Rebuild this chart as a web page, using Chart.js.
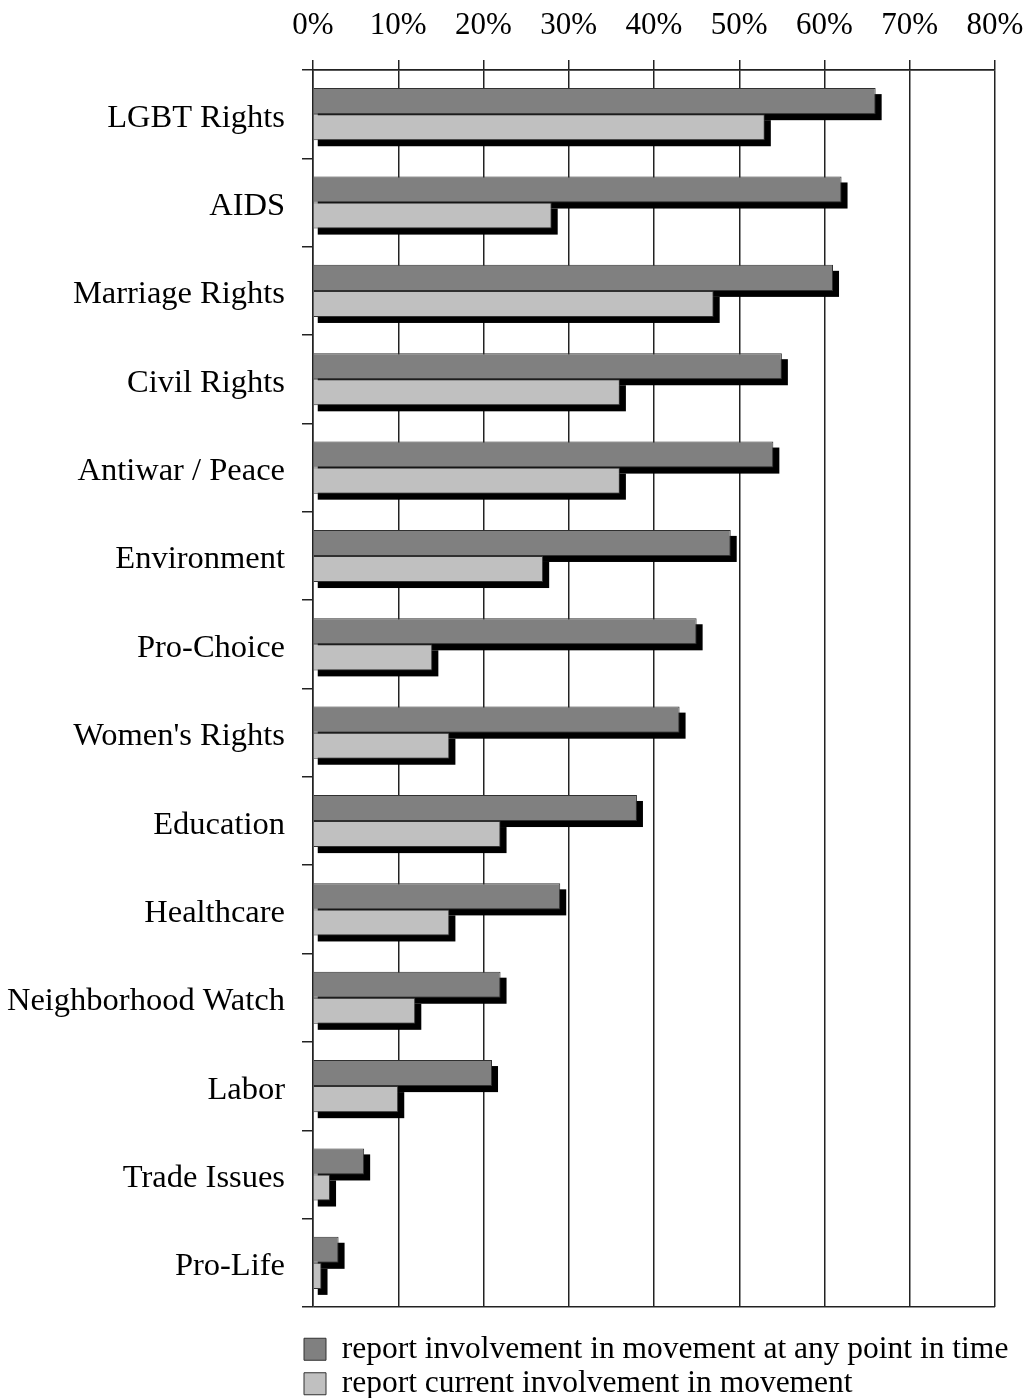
<!DOCTYPE html>
<html>
<head>
<meta charset="utf-8">
<script src="https://cdn.jsdelivr.net/npm/chart.js@4.4.1/dist/chart.umd.min.js"></script>
<style>
  html, body { margin: 0; padding: 0; background: #fff; overflow: hidden; }
  #wrap { width: 1030px; height: 1398px; position: relative; }
</style>
</head>
<body>
<div id="wrap"><canvas id="movement-chart"></canvas></div>
<script>
"use strict"

// movements, top to bottom
const categories = [
  "LGBT Rights", "AIDS", "Marriage Rights", "Civil Rights", "Antiwar / Peace",
  "Environment", "Pro-Choice", "Women's Rights", "Education", "Healthcare",
  "Neighborhood Watch", "Labor", "Trade Issues", "Pro-Life",
];
const seriesNames = [
  "report involvement in movement at any point in time",
  "report current involvement in movement",
];
// percent of respondents
const anyTime = [66, 62, 61, 55, 54, 49, 45, 43, 38, 29, 22, 21, 6, 3];
const current = [53, 28, 47, 36, 36, 27, 14, 16, 22, 16, 12, 10, 2, 1];
const xTicks = [0, 10, 20, 30, 40, 50, 60, 70, 80];

const serif = "'Liberation Serif', 'Times New Roman', serif";
Chart.defaults.color = "#000";

// black drop shadow behind every bar, drawn from the bar elements
const barShadow = {
  id: "barShadow",
  beforeDatasetsDraw(chart) {
    const ctx = chart.ctx;
    ctx.save();
    ctx.fillStyle = "#000";
    chart.data.datasets.forEach((ds, i) => {
      const meta = chart.getDatasetMeta(i);
      meta.data.forEach(bar => {
        const p = bar.getProps(["x", "y", "base", "height"], true);
        const left = Math.min(p.base, p.x);
        ctx.fillRect(left + 4, p.y - p.height / 2 + 6, Math.abs(p.x - p.base) + 2, p.height);
      });
    });
    ctx.restore();
  },
};

// move the legend so it sits under the plot, flush with the axis
const legendSpot = {
  id: "legendSpot",
  afterLayout(chart) {
    const lg = chart.legend;
    const area = chart.chartArea;
    const pad = lg.options.labels.padding;
    const dx = (area.left - 9 - pad) - lg.left;
    lg.left += dx;
    lg.right += dx;
    const dy = (area.bottom + 23.5) - lg.top;
    lg.top += dy;
    lg.bottom += dy;
  },
};

const ctx = document.getElementById("movement-chart");

new Chart(ctx, {
  type: "bar",
  data: {
    labels: categories,
    datasets: [
      {
        label: seriesNames[0],
        data: anyTime,
        backgroundColor: "#808080",
        borderColor: "#303030",
        borderWidth: 1,
      },
      {
        label: seriesNames[1],
        data: current,
        backgroundColor: "#c0c0c0",
        borderColor: "#303030",
        borderWidth: 1,
      },
    ],
  },
  options: {
    indexAxis: "y",
    responsive: true,
    maintainAspectRatio: false,
    animation: false,
    layout: { padding: { top: 0, right: 35, bottom: 12, left: 0 } },
    datasets: {
      bar: { categoryPercentage: 0.59, barPercentage: 1.0 },
    },
    scales: {
      x: {
        position: "top",
        min: 0,
        max: 80,
        afterFit(scale) {
          scale.height = 70;
          scale.paddingLeft = 0;
          scale.paddingRight = 0;
        },
        afterBuildTicks(scale) { scale.ticks = xTicks.map(v => ({ value: v })); },
        ticks: {
          padding: 16,
          font: { family: serif, size: 31 },
          color: "#000",
          callback: v => v + "%",
        },
        grid: {
          color: "#222",
          lineWidth: 1.5,
          drawTicks: true,
          tickLength: 10,
        },
        border: { color: "#222", width: 1.5 },
      },
      y: {
        afterFit(scale) { scale.width = 313; },
        ticks: {
          padding: 17,
          labelOffset: 4,
          font: { family: serif, size: 32.5 },
          color: "#000",
        },
        grid: {
          offset: true,
          drawOnChartArea: true,
          tickLength: 11,
          lineWidth: 1.5,
          tickColor: "#222",
          // only the top and bottom lines run across the plot
          color: c => (c.index === 0 || c.index === undefined) ? "#222" : "rgba(0,0,0,0)",
        },
        border: { color: "#222", width: 1.5 },
      },
    },
    plugins: {
      legend: {
        position: "bottom",
        align: "start",
        labels: {
          font: { family: serif, size: 31.5 },
          color: "#000",
          boxWidth: 22,
          boxHeight: 22,
          padding: 3,
        },
      },
      tooltip: { enabled: false },
    },
  },
  plugins: [barShadow, legendSpot],
});
</script>
</body>
</html>
